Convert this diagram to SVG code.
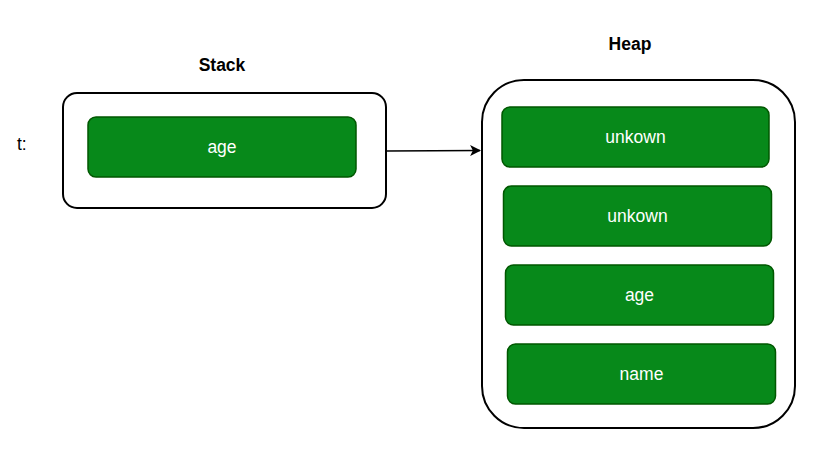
<svg xmlns="http://www.w3.org/2000/svg" width="821" height="452" viewBox="0 0 821 452">
<defs>
<style>
.cont{fill:#fff;stroke:#000;stroke-width:2}
.cell{fill:#07891A;stroke:#005700;stroke-width:1.5}
.lbl{font-family:"Liberation Sans",Arial,sans-serif;font-size:17.5px;fill:#fff;text-anchor:middle;dominant-baseline:central}
.title{font-family:"Liberation Sans",Arial,sans-serif;font-size:17.5px;font-weight:bold;fill:#000;text-anchor:middle;dominant-baseline:central}
.plain{font-family:"Liberation Sans",Arial,sans-serif;font-size:17.5px;fill:#000;dominant-baseline:central}
</style>
<marker id="arr" viewBox="0 0 10 10" refX="9" refY="5" markerWidth="11" markerHeight="11" markerUnits="userSpaceOnUse" orient="auto">
<path d="M0,0 L10,5 L0,10 L2.5,5 Z" fill="#000"/>
</marker>
</defs>
<rect width="821" height="452" fill="#fff"/>
<g id="t-label"><text class="plain" x="17" y="144">t:</text></g>
<g id="stack">
<text class="title" x="222" y="65">Stack</text>
<rect class="cont" x="63" y="93" width="323" height="115" rx="14"/>
</g>
<g id="stack-age">
<rect class="cell" x="88" y="117" width="268" height="60" rx="8"/>
<text class="lbl" x="222" y="147">age</text>
</g>
<g id="heap">
<text class="title" x="630" y="44">Heap</text>
<rect class="cont" x="482" y="80" width="313" height="348" rx="42"/>
</g>
<g id="heap-unkown1">
<rect class="cell" x="502" y="107" width="267" height="60" rx="8"/>
<text class="lbl" x="635.5" y="137">unkown</text>
</g>
<g id="heap-unkown2">
<rect class="cell" x="503.5" y="186" width="268" height="60" rx="8"/>
<text class="lbl" x="637.5" y="216">unkown</text>
</g>
<g id="heap-age">
<rect class="cell" x="505.5" y="265" width="268" height="60" rx="8"/>
<text class="lbl" x="639.5" y="295">age</text>
</g>
<g id="heap-name">
<rect class="cell" x="507.5" y="344" width="268" height="60" rx="8"/>
<text class="lbl" x="641.5" y="374">name</text>
</g>
<g id="connectors">
<path d="M386,151 L480,150.5" fill="none" stroke="#000" stroke-width="1.5" marker-end="url(#arr)"/>
</g>
</svg>
